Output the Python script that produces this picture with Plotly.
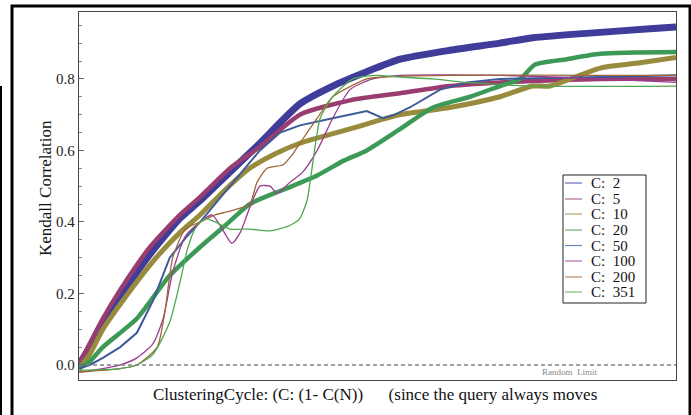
import plotly.graph_objects as go

# ---------------- data (x = clustering cycle, y = Kendall correlation) ----------------
labels = ["C:  2", "C:  5", "C:  10", "C:  20", "C:  50", "C:  100", "C:  200", "C:  351"]
colors = ["#3F3D99", "#993D71", "#998B3D", "#3D9956", "#3D5A99", "#993D90", "#A0683A", "#4FA84F"]
widths = [7, 4.5, 5, 4.5, 2, 1.3, 1.3, 1.3]
shapes_kind = ["spline", "spline", "spline", "spline", "linear", "spline", "spline", "spline"]

x_c2 = [0, 18, 40, 69, 119, 169, 203, 253, 303, 370, 425, 482, 538, 621, 705, 760, 873, 956, 1000]
y_c2 = [0.0, 0.05, 0.11, 0.19, 0.31, 0.41, 0.46, 0.54, 0.62, 0.73, 0.78, 0.82, 0.855, 0.88, 0.90, 0.915, 0.93, 0.94, 0.945]

x_c5 = [0, 18, 40, 69, 119, 169, 203, 253, 303, 370, 454, 538, 621, 705, 873, 1000]
y_c5 = [0.0, 0.06, 0.13, 0.21, 0.33, 0.42, 0.47, 0.55, 0.61, 0.70, 0.74, 0.76, 0.78, 0.79, 0.80, 0.80]

x_c10 = [0, 18, 40, 69, 124, 169, 203, 245, 286, 328, 370, 454, 538, 621, 705, 760, 789, 873, 940, 1000]
y_c10 = [-0.01, 0.03, 0.10, 0.17, 0.29, 0.37, 0.42, 0.49, 0.55, 0.59, 0.62, 0.66, 0.70, 0.72, 0.75, 0.78, 0.78, 0.83, 0.845, 0.86]

x_c20 = [0, 18, 40, 97, 152, 203, 245, 286, 342, 399, 442, 482, 538, 593, 655, 705, 739, 764, 817, 873, 1000]
y_c20 = [-0.01, 0.01, 0.05, 0.13, 0.25, 0.33, 0.39, 0.45, 0.49, 0.53, 0.57, 0.60, 0.66, 0.72, 0.75, 0.78, 0.80, 0.84, 0.855, 0.87, 0.875]

x_c50 = [0, 18, 40, 69, 97, 124, 152, 181, 203, 253, 303, 337, 370, 425, 454, 482, 509, 529, 554, 605, 650, 705, 873, 1000]
y_c50 = [-0.01, 0.0, 0.02, 0.05, 0.09, 0.18, 0.30, 0.36, 0.40, 0.50, 0.60, 0.65, 0.67, 0.69, 0.70, 0.71, 0.69, 0.70, 0.72, 0.77, 0.79, 0.80, 0.805, 0.81]

x_c100 = [0, 40, 69, 97, 124, 141, 157, 178, 203, 223, 240, 256, 270, 286, 303, 320, 332, 353, 375, 399, 425, 454, 492, 538, 705, 873, 1000]
y_c100 = [-0.02, -0.01, 0.0, 0.02, 0.06, 0.13, 0.26, 0.36, 0.40, 0.42, 0.38, 0.34, 0.37, 0.44, 0.50, 0.50, 0.48, 0.51, 0.54, 0.60, 0.69, 0.77, 0.80, 0.81, 0.81, 0.80, 0.79]

x_c200 = [0, 69, 97, 131, 144, 157, 178, 203, 228, 253, 286, 298, 315, 342, 358, 370, 399, 425, 482, 509, 621, 873, 1000]
y_c200 = [-0.02, -0.01, 0.0, 0.05, 0.15, 0.30, 0.38, 0.40, 0.42, 0.43, 0.45, 0.51, 0.55, 0.56, 0.59, 0.62, 0.69, 0.75, 0.80, 0.805, 0.81, 0.81, 0.81]

x_c351 = [0, 69, 97, 124, 152, 169, 181, 194, 211, 228, 253, 286, 320, 353, 370, 382, 387, 392, 404, 425, 459, 499, 538, 593, 650, 760, 1000]
y_c351 = [-0.015, -0.01, 0.0, 0.03, 0.12, 0.23, 0.32, 0.38, 0.41, 0.40, 0.38, 0.38, 0.375, 0.39, 0.41, 0.46, 0.51, 0.57, 0.69, 0.75, 0.80, 0.81, 0.805, 0.80, 0.79, 0.78, 0.78]

xs = [x_c2, x_c5, x_c10, x_c20, x_c50, x_c100, x_c200, x_c351]
ys = [y_c2, y_c5, y_c10, y_c20, y_c50, y_c100, y_c200, y_c351]

y_ticks = [0.0, 0.2, 0.4, 0.6, 0.8]
y_tick_text = ["0.0", "0.2", "0.4", "0.6", "0.8"]
x_range = [0, 1000]
y_range = [-0.042, 0.987]
random_limit = 0.0

SERIF = "Liberation Serif, Times New Roman, serif"

fig = go.Figure()
for x, y, c, w, lab, sk in zip(xs, ys, colors, widths, labels, shapes_kind):
    line = dict(color=c, width=w, shape=sk)
    if sk == "spline":
        line["smoothing"] = 0.6
    fig.add_trace(go.Scatter(x=x, y=y, mode="lines", name=lab,
                             line=line, showlegend=False))

# random-limit dashed line
fig.add_trace(go.Scatter(x=x_range, y=[random_limit, random_limit], mode="lines",
                         line=dict(color="#808080", width=1.3, dash="4px,3px"),
                         showlegend=False, hoverinfo="skip"))

W, H = 691, 415
L, R, T, B = 79, 15, 12, 35
pw, ph = W - L - R, H - T - B

def px(xp):
    return (xp - L) / pw

def py(yp):
    return (H - B - yp) / ph

shapes = []
annotations = []

# outer frame (thick black)
shapes.append(dict(type="rect", xref="paper", yref="paper",
                   x0=px(12), x1=px(690), y0=py(440), y1=py(6),
                   line=dict(color="black", width=3), fillcolor="rgba(0,0,0,0)", layer="above"))
# stray vertical line at left edge
shapes.append(dict(type="line", xref="paper", yref="paper",
                   x0=px(1), x1=px(1), y0=py(86), y1=py(420),
                   line=dict(color="black", width=2)))

# manual legend
lx0, lx1, ly0, ly1 = 563, 646, 175, 303
shapes.append(dict(type="rect", xref="paper", yref="paper",
                   x0=px(lx0), x1=px(lx1), y0=py(ly1), y1=py(ly0),
                   line=dict(color="#222", width=1), fillcolor="white", layer="above"))
rows = [183, 199, 214, 230, 245.5, 261, 277, 292]
for rowy, c, lab in zip(rows, colors, labels):
    shapes.append(dict(type="line", xref="paper", yref="paper",
                       x0=px(565), x1=px(582), y0=py(rowy), y1=py(rowy),
                       line=dict(color=c, width=1.2), opacity=0.75, layer="above"))
    annotations.append(dict(xref="paper", yref="paper", x=px(589), y=py(rowy),
                            text=lab, showarrow=False, xanchor="left", yanchor="middle",
                            font=dict(family=SERIF, size=15, color="#111")))

# axis titles
annotations.append(dict(xref="paper", yref="paper", x=px(45), y=py(188),
                        text="Kendall Correlation", textangle=-90, showarrow=False,
                        xanchor="center", yanchor="middle",
                        font=dict(family=SERIF, size=17, color="#111")))
annotations.append(dict(xref="paper", yref="paper", x=px(375), y=py(394),
                        text="ClusteringCycle: (C: (1- C(N))      (since the query always moves",
                        showarrow=False, xanchor="center", yanchor="middle",
                        font=dict(family=SERIF, size=17, color="#111")))
annotations.append(dict(xref="x", yref="y", x=822, y=-0.021, text="Random  Limit",
                        showarrow=False, xanchor="center", yanchor="middle",
                        font=dict(family=SERIF, size=9, color="#888")))

fig.update_layout(
    width=W, height=H,
    margin=dict(l=L, r=R, t=T, b=B, pad=0),
    paper_bgcolor="white", plot_bgcolor="white",
    shapes=shapes, annotations=annotations,
    showlegend=False,
    xaxis=dict(range=x_range, showgrid=False, zeroline=False, showticklabels=False,
               ticks="", showline=True, linecolor="#444", linewidth=1.3, mirror=True),
    yaxis=dict(range=y_range, showgrid=False, zeroline=False,
               tickvals=y_ticks, ticktext=y_tick_text, ticks="inside", ticklen=5,
               tickcolor="#666", tickwidth=1,
               minor=dict(dtick=0.05, tick0=0, ticks="inside", ticklen=3, tickcolor="#888"),
               tickfont=dict(family=SERIF, size=15, color="#222"),
               showline=True, linecolor="#444", linewidth=1.3, mirror=True),
)

fig.write_html("out.html")
